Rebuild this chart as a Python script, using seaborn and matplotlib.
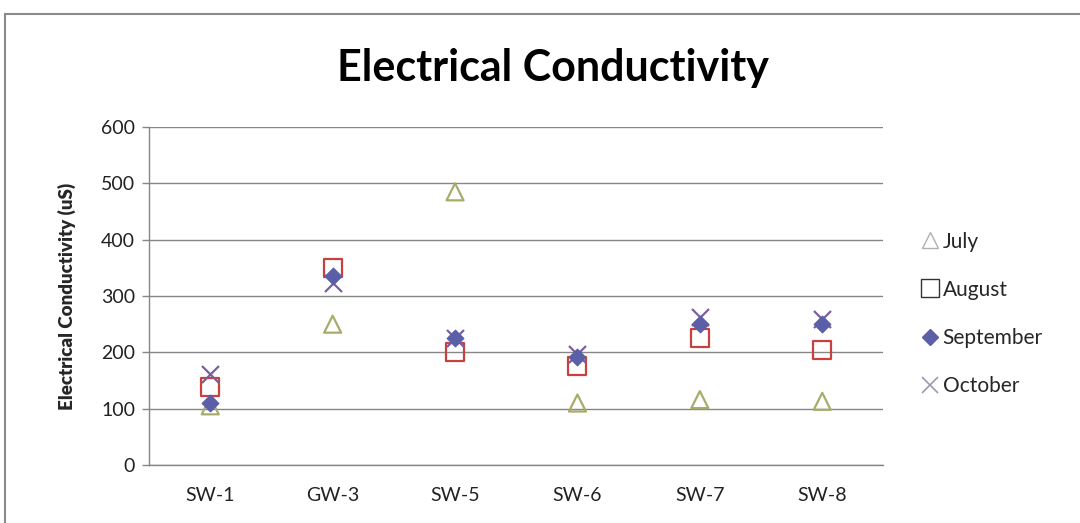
import matplotlib
matplotlib.use("Agg")
import matplotlib.pyplot as plt
import seaborn as sns
import pandas as pd
from matplotlib.patches import Rectangle
from matplotlib.lines import Line2D

sites = ["SW-1", "GW-3", "SW-5", "SW-6", "SW-7", "SW-8"]
months = ["July", "August", "September", "October"]
july = [105, 250, 485, 110, 116, 113]
august = [138, 350, 200, 175, 225, 204]
september = [110, 335, 225, 192, 250, 250]
october = [162, 323, 225, 197, 262, 260]
yticks = [0, 100, 200, 300, 400, 500, 600]

rows = []
for m, vals in zip(months, [july, august, september, october]):
    for s, v in zip(sites, vals):
        rows.append({"Site": s, "Month": m, "EC": v})
df = pd.DataFrame(rows)

sns.set_theme(style="white")
plt.rcParams['font.family'] = ['Lato', 'DejaVu Sans']

fig = plt.figure(figsize=(10.8, 5.23), dpi=100)
ax = fig.add_axes([0.138, 0.111, 0.680, 0.646])

styles = {
    "July": dict(marker="^", facecolor="none", edgecolor="#a8ac6a", lw=1.6, s=150),
    "August": dict(marker="s", facecolor="none", edgecolor="#c8413f", lw=1.6, s=170),
    "September": dict(marker="D", facecolor="#5b5fa8", edgecolor="#5b5fa8", lw=1.0, s=70),
    "October": dict(marker="x", facecolor="#7a5f9e", edgecolor="#7a5f9e", lw=1.6, s=150),
}
order = ["July", "August", "October", "September"]
for m in order:
    st = styles[m]
    sub = df[df["Month"] == m]
    kw = dict(marker=st["marker"], s=st["s"], linewidth=st["lw"], legend=False, zorder=3)
    if st["marker"] == "x":
        kw["color"] = st["edgecolor"]
    else:
        kw["facecolor"] = st["facecolor"]
        kw["edgecolor"] = st["edgecolor"]
    sns.scatterplot(data=sub, x="Site", y="EC", ax=ax, **kw)

ax.set_xlim(-0.5, 5.5)
ax.set_ylim(0, 600)
ax.set_yticks(yticks)
ax.set_yticklabels([str(t) for t in yticks], fontsize=14, color="#222222")
ax.set_xticks(range(len(sites)))
ax.set_xticklabels(sites, fontsize=14, color="#222222")
ax.set_xticks([i - 0.5 for i in range(len(sites) + 1)], minor=True)
ax.tick_params(axis="x", which="major", length=0, pad=16)
ax.tick_params(axis="x", which="minor", length=5, color="#868686", width=1, direction="out")
ax.tick_params(axis="y", length=5, color="#868686", width=1, direction="out", left=True, pad=5)
ax.yaxis.grid(True, color="#868686", lw=1)
ax.set_axisbelow(True)
for sp in ["top", "right"]:
    ax.spines[sp].set_visible(False)
for sp in ["left", "bottom"]:
    ax.spines[sp].set_color("#868686")
    ax.spines[sp].set_linewidth(1)
ax.set_xlabel("")
ax.set_ylabel("Electrical Conductivity (uS)", fontsize=13.5, fontweight="heavy", labelpad=18)

fig.text(0.512, 0.87, "Electrical Conductivity", ha="center", va="center",
         fontsize=31, fontweight="bold", color="black")

handles = [
    Line2D([], [], marker="^", ls="none", markerfacecolor="none", markeredgecolor="#b0b0b0", markersize=11),
    Line2D([], [], marker="s", ls="none", markerfacecolor="none", markeredgecolor="#333333", markersize=13),
    Line2D([], [], marker="D", ls="none", markerfacecolor="#5b5fa8", markeredgecolor="#5b5fa8", markersize=8),
    Line2D([], [], marker="x", ls="none", color="#9a9ab0", markersize=11, markeredgewidth=1.2),
]
leg = fig.legend(handles, months, loc="center left", bbox_to_anchor=(0.842, 0.40),
                 frameon=False, fontsize=15, handletextpad=0.0, labelspacing=1.35,
                 handlelength=1.2, borderaxespad=0)

fig.add_artist(Rectangle((0.005, -0.1), 1.1, 0.073 + 1.0, transform=fig.transFigure,
                         fill=False, edgecolor="#8a8a8a", lw=1.5))

fig.savefig("out.png", dpi=100)
